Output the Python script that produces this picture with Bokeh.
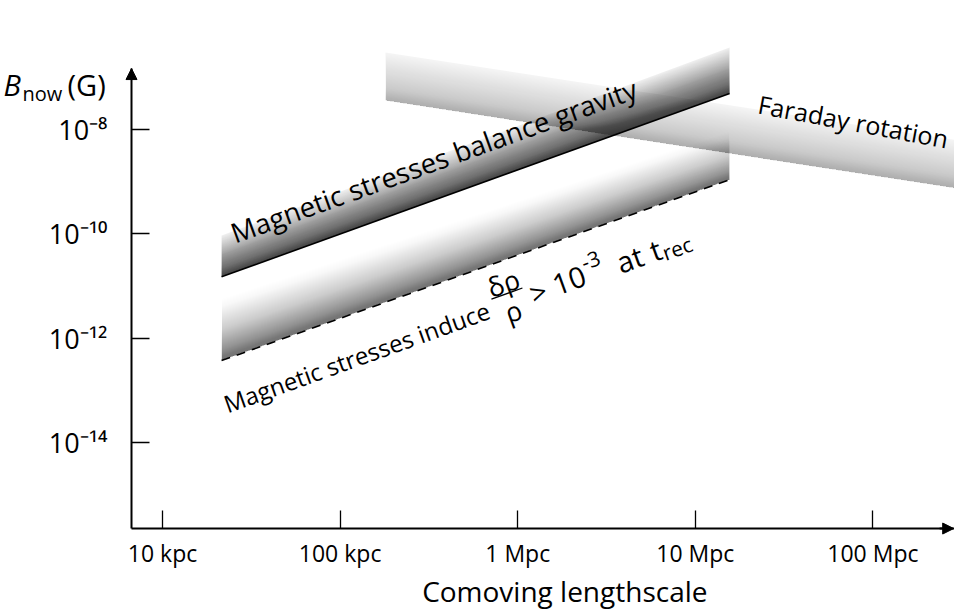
import math
import numpy as np
from bokeh.plotting import figure
from bokeh.models import Range1d, FixedTicker, Arrow, NormalHead
from bokeh.core.properties import value
from bokeh.embed import file_html
from bokeh.resources import INLINE

FONT = "Open Sans"

# ---------------- data ----------------
x_ticks = [0.01, 0.1, 1.0, 10.0, 100.0]                      # Mpc
x_tick_labels = ["10 kpc", "100 kpc", "1 Mpc", "10 Mpc", "100 Mpc"]
y_ticks = [1e-8, 1e-10, 1e-12, 1e-14]                         # Gauss
y_tick_labels = ["10\u207b\u2078", "10\u207b\u00b9\u2070", "10\u207b\u00b9\u00b2", "10\u207b\u00b9\u2074"]

x_limits = [1.224e-3, 288.0]          # visible window
y_limits = [5.37e-18, 3.04e-6]
x_axis_span = [0.00669, 530.0]        # extent of the x axis rule (runs off the right edge)
x_arrow_tip = 285.0
y_axis_span = [2.2e-16, 1.5e-7]       # extent of the y axis rule

# "Magnetic stresses balance gravity" band (solid lower edge)
gravity_x = [0.0215, 15.6]
gravity_lower = [1.5e-11, 5.0e-8]
gravity_upper = [9.3e-11, 3.8e-7]

# "Magnetic stresses induce drho/rho > 1e-3 at t_rec" band (dashed lower edge)
recomb_x = [0.0215, 15.6]
recomb_lower = [3.7e-13, 1.1e-9]
recomb_upper = [6.0e-12, 9.8e-9]

# Faraday rotation band
faraday_x = [0.18, 290.0]
faraday_lower = [3.6e-8, 7.5e-10]
faraday_upper = [3.05e-7, 6.4e-9]

# ---------------- layout ----------------
W, H = 954, 612
lx0, lx1 = math.log10(x_limits[0]), math.log10(x_limits[1])
ly0, ly1 = math.log10(y_limits[0]), math.log10(y_limits[1])


def px2data(px, py):
    x = 10 ** (lx0 + px / W * (lx1 - lx0))
    y = 10 ** (ly1 - py / H * (ly1 - ly0))
    return x, y


EM = {' ': 0.26, 'M': 0.907, 'a': 0.556, 'g': 0.541, 'n': 0.614, 'e': 0.561,
      't': 0.352, 'i': 0.253, 'c': 0.476, 's': 0.477, 'r': 0.408, 'd': 0.614,
      'u': 0.614, 'b': 0.614, 'l': 0.253, 'y': 0.501, 'v': 0.501, '>': 0.572,
      '0': 0.572, '1': 0.572, '3': 0.572, '-': 0.322, '\u03b4': 0.60,
      '\u03c1': 0.62, 'o': 0.602}


def tw(s, size):
    return sum(EM.get(ch, 0.55) for ch in s) * size


p = figure(width=W, height=H, x_axis_type="log", y_axis_type="log",
           x_range=Range1d(*x_limits), y_range=Range1d(*y_limits),
           output_backend="svg", toolbar_location=None,
           min_border_left=0, min_border_right=0,
           min_border_top=0, min_border_bottom=0)
p.outline_line_color = None
p.xgrid.visible = False
p.ygrid.visible = False
p.background_fill_color = "white"
p.border_fill_color = "white"


def band(xs, lo, hi, o_lo, o_hi, gamma, n=60):
    a = np.log10(lo)
    b = np.log10(hi)
    ks = np.arange(1, n + 1)
    fm = (ks - 0.5) / n
    O = o_hi + (o_lo - o_hi) * (1 - fm) ** gamma
    O_next = np.append(O[1:], 0.0)
    alpha = 1 - (1 - O) / (1 - O_next)
    xs_list, ys_list = [], []
    for k in ks:
        f = k / n
        t0 = 10 ** (a[0] + f * (b[0] - a[0]))
        t1 = 10 ** (a[1] + f * (b[1] - a[1]))
        xs_list.append([xs[0], xs[1], xs[1], xs[0]])
        ys_list.append([lo[0], lo[1], t1, t0])
    return xs_list, ys_list, list(alpha)


for bx, blo, bhi, olo, ohi, gm in [
        (faraday_x, faraday_lower, faraday_upper, 0.31, 0.04, 1.0),
        (gravity_x, gravity_lower, gravity_upper, 0.64, 0.06, 1.0),
        (recomb_x, recomb_lower, recomb_upper, 0.45, 0.0, 1.25)]:
    xs_l, ys_l, al = band(bx, blo, bhi, olo, ohi, gm)
    p.patches(xs=xs_l, ys=ys_l, fill_color="black", fill_alpha=al, line_color=None)

p.line(gravity_x, gravity_lower, line_color="black", line_width=1.6)
p.line(recomb_x, recomb_lower, line_color="black", line_width=1.6, line_dash="9 7")

# ---------------- axes ----------------
for ax in (p.xaxis[0], p.yaxis[0]):
    ax.axis_line_color = "black"
    ax.axis_line_width = 2
    ax.major_tick_in = 18
    ax.major_tick_out = 0
    ax.major_tick_line_width = 1.3
    ax.major_tick_line_color = "black"
    ax.minor_tick_line_color = None
    ax.major_label_text_font = FONT
    ax.major_label_text_color = "black"

p.xaxis.fixed_location = y_axis_span[0]
p.xaxis.bounds = tuple(x_axis_span)
p.xaxis.ticker = FixedTicker(ticks=x_ticks)
p.xaxis.major_label_overrides = dict(zip(x_ticks, x_tick_labels))
p.xaxis.major_label_text_font_size = "23px"
p.xaxis.major_label_standoff = 8
# leading no-break spaces move the centred title to where the reference has it
p.xaxis.axis_label = "\u00a0" * 6 + "Comoving lengthscale"
p.xaxis.axis_label_text_font = FONT
p.xaxis.axis_label_text_font_size = "28px"
p.xaxis.axis_label_text_font_style = "normal"
p.xaxis.axis_label_text_color = "black"
p.xaxis.axis_label_standoff = 0

p.yaxis.fixed_location = x_axis_span[0]
p.yaxis.bounds = tuple(y_axis_span)
p.yaxis.ticker = FixedTicker(ticks=y_ticks)
p.yaxis.major_label_overrides = dict(zip(y_ticks, y_tick_labels))
p.yaxis.major_label_text_font_size = "27px"
p.yaxis.major_label_standoff = 24

# arrow heads at the axis ends
p.add_layout(Arrow(end=NormalHead(size=11, fill_color="black", line_color="black", line_width=1),
                   x_start=x_axis_span[0], y_start=y_axis_span[1] / 1.3,
                   x_end=x_axis_span[0], y_end=y_axis_span[1],
                   line_width=2, line_color="black"))
p.add_layout(Arrow(end=NormalHead(size=11, fill_color="black", line_color="black", line_width=1),
                   x_start=x_arrow_tip / 1.2, y_start=y_axis_span[0],
                   x_end=x_arrow_tip, y_end=y_axis_span[0],
                   line_width=2, line_color="black"))

# y axis title: B_now (G)
for txt, px, py, size, style in [("B", 3, 84, "29px", "italic"),
                                 ("now", 22, 93, "20px", "normal"),
                                 ("(G)", 67, 84, "29px", "normal")]:
    xx, yy = px2data(px, py)
    p.text(x=[xx], y=[yy], text=[txt], text_font=value(FONT), text_font_size=value(size),
           text_font_style=style, text_color="black", text_align="left",
           text_baseline="alphabetic")

# ---------------- band labels ----------------
th = math.radians(19.9)
gx, gy = px2data(231, 233)
p.text(x=[gx], y=[gy], text=["Magnetic stresses balance gravity"], angle=th,
       text_font=value(FONT), text_font_size=value("27.6px"), text_color="black",
       text_align="left", text_baseline="alphabetic")

fx, fy = px2data(758, 103)
p.text(x=[fx], y=[fy], text=["Faraday rotation"], angle=math.radians(-10.5),
       text_font=value(FONT), text_font_size=value("25px"), text_color="black",
       text_align="left", text_baseline="alphabetic")

# lower label, composed of pieces along a rotated baseline
S1 = 24.0     # "Magnetic stresses induce"
S2 = 29.0     # math part
SF = 27.0     # fraction
SS = 21.0     # super/subscripts
th2 = math.radians(19.8)
ax0, ay0 = 224, 404


def along(d, h):
    px = ax0 + d * math.cos(th2) - h * math.sin(th2)
    py = ay0 - d * math.sin(th2) - h * math.cos(th2)
    return px2data(px, py)


main = "Magnetic stresses induce"
d_f = tw(main, S1) + 0.25 * S1
wf = tw("\u03b4\u03c1", SF)
bar_h = 0.30 * S2
pieces = [(main, 0.0, 0.0, S1)]
d = d_f + wf + 0.18 * S2
pieces.append((">", d, 0.0, S2))
d += tw(">", S2) + 0.28 * S2
pieces.append(("10", d, 0.0, S2))
d += tw("10", S2) + 0.04 * S2
pieces.append(("-3", d, 0.42 * S2, SS))
d += tw("-3", SS) + 0.5 * S2
pieces.append(("at", d, 0.0, S2))
d += tw("at", S2) + 0.32 * S2
pieces.append(("t", d, 0.0, S2))
d += tw("t", S2) + 0.02 * S2
pieces.append(("rec", d, -0.22 * S2, SS))

xs_t, ys_t, tx_t, fs_t = [], [], [], []
for txt, dd, hh, ss in pieces:
    x_, y_ = along(dd, hh)
    xs_t.append(x_)
    ys_t.append(y_)
    tx_t.append(txt)
    fs_t.append("%.1fpx" % ss)
p.text(x=xs_t, y=ys_t, text=tx_t, angle=th2, text_font=value(FONT),
       text_font_size=fs_t, text_color="black", text_align="left",
       text_baseline="alphabetic")

cx_n, cy_n = along(d_f + wf / 2, bar_h + 0.42 * SF)
cx_d, cy_d = along(d_f + wf / 2, bar_h - 0.68 * SF)
p.text(x=[cx_n, cx_d], y=[cy_n, cy_d], text=["\u03b4\u03c1", "\u03c1"], angle=th2,
       text_font=value(FONT), text_font_size=value("%dpx" % SF), text_color="black",
       text_align="center", text_baseline="alphabetic")
b0 = along(d_f, bar_h)
b1 = along(d_f + wf, bar_h)
p.segment(x0=[b0[0]], y0=[b0[1]], x1=[b1[0]], y1=[b1[1]], line_color="black", line_width=1.3)

open("out.html", "w").write(file_html(p, INLINE))
